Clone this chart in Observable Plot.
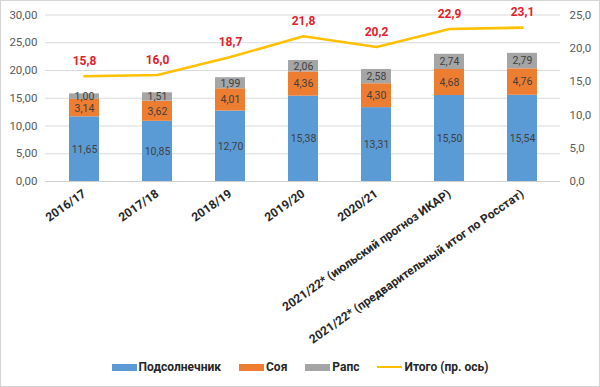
<!DOCTYPE html>
<html>
<head>
<meta charset="utf-8">
<script src="https://cdn.jsdelivr.net/npm/d3@7"></script>
<script src="https://cdn.jsdelivr.net/npm/@observablehq/plot@0.6"></script>
<style>
  html, body { margin: 0; padding: 0; background: #fff; }
  #wrap { width: 600px; height: 387px; box-sizing: border-box; border: 1px solid #d4d4d4; font-family: Roboto, "Noto Sans", sans-serif; overflow: hidden; }
  #legend { display: flex; justify-content: center; align-items: center; height: 36px; font-size: 12px; font-weight: bold; color: #262626; }
  .item { display: flex; align-items: center; margin: 0 9px; }
  .sw { width: 25px; height: 7px; margin-right: 2px; }
  .ln { width: 25px; height: 2.5px; margin-right: 2px; }
</style>
</head>
<body>
<div id="wrap"><div id="chart"></div><div id="legend"></div></div>
<script>
const categories = ["2016/17", "2017/18", "2018/19", "2019/20", "2020/21",
  "2021/22* (июльский прогноз ИКАР)", "2021/22* (предварительный итог по Росстат)"];
const seriesNames = ["Подсолнечник", "Соя", "Рапс"];
const sunflower = [11.65, 10.85, 12.70, 15.38, 13.31, 15.50, 15.54];
const soy = [3.14, 3.62, 4.01, 4.36, 4.30, 4.68, 4.76];
const rapeseed = [1.00, 1.51, 1.99, 2.06, 2.58, 2.74, 2.79];
const total = [15.8, 16.0, 18.7, 21.8, 20.2, 22.9, 23.1];
const totalName = "Итого (пр. ось)";
const leftTicks = [0, 5, 10, 15, 20, 25, 30];
const rightTicks = [0, 5, 10, 15, 20, 25];

const colors = ["#5b9bd5", "#ed7d31", "#a5a5a5"];
const lineColor = "#ffc000";
const ratio = 30 / 25; // right axis 0–25 maps to left axis 0–30

const seriesValues = [sunflower, soy, rapeseed];
const stacked = [];
seriesValues.forEach((vals, s) => vals.forEach((v, i) =>
  stacked.push({cat: categories[i], series: seriesNames[s], value: v})));
const totals = categories.map((c, i) => ({cat: c, value: total[i], scaled: total[i] * ratio}));

const fmt = (v, d) => v.toFixed(d).replace(".", ",");

const plot = Plot.plot({
  width: 598,
  height: 348,
  marginLeft: 44,
  marginRight: 39,
  marginTop: 13.5,
  marginBottom: 168,
  style: {fontFamily: "Roboto, 'Noto Sans', sans-serif", background: "#fff"},
  x: {domain: categories, paddingInner: 0.59, paddingOuter: 0.295, label: null},
  y: {domain: [0, 30], label: null},
  color: {domain: seriesNames, range: colors},
  marks: [
    Plot.gridY(leftTicks.filter(d => d > 0), {stroke: "#d9d9d9", strokeOpacity: 1}),
    Plot.ruleY([0], {stroke: "#d0d0d0"}),
    Plot.barY(stacked, {x: "cat", y: "value", fill: "series", order: seriesNames}),
    Plot.text(stacked, Plot.stackY({x: "cat", y: "value", z: "series", order: seriesNames,
      text: d => fmt(d.value, 2), fill: "#404040", fontSize: 10.5})),
    Plot.line(totals, {x: "cat", y: "scaled", stroke: lineColor, strokeWidth: 2.6}),
    Plot.text(totals, {x: "cat", y: "scaled", text: d => fmt(d.value, 1), dy: -15,
      fill: "#e3202a", fontWeight: "bold", fontSize: 12}),
    Plot.axisY({anchor: "left", ticks: leftTicks, tickFormat: d => fmt(d, 2), tickSize: 0,
      tickPadding: 8, fill: "#595959", fontSize: 11.5, label: null}),
    Plot.axisY({anchor: "right", ticks: rightTicks.map(d => d * ratio),
      tickFormat: d => fmt(d / ratio, 1), tickSize: 0, tickPadding: 9,
      fill: "#595959", fontSize: 11.5, label: null}),
    Plot.axisX({tickRotate: -35, tickSize: 0, tickPadding: 11, fontWeight: "bold",
      fontSize: 12, fill: "#262626", label: null})
  ]
});
document.getElementById("chart").appendChild(plot);

const legend = document.getElementById("legend");
seriesNames.forEach((n, i) => {
  const it = document.createElement("div");
  it.className = "item";
  it.innerHTML = `<span class="sw" style="background:${colors[i]}"></span><span>${n}</span>`;
  legend.appendChild(it);
});
const it = document.createElement("div");
it.className = "item";
it.innerHTML = `<span class="ln" style="background:${lineColor}"></span><span>${totalName}</span>`;
legend.appendChild(it);
</script>
</body>
</html>
